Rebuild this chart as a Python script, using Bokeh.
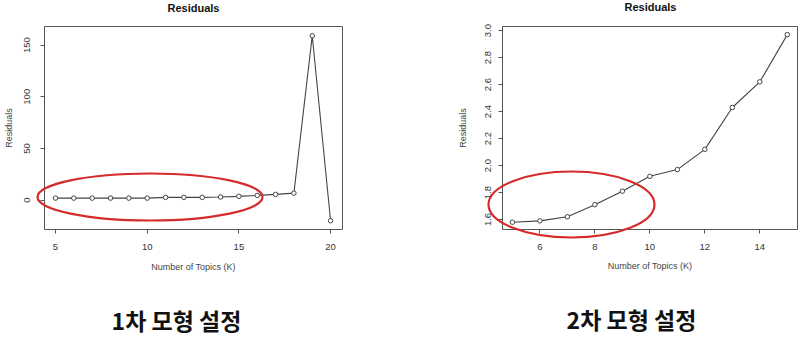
import numpy as np
from bokeh.plotting import figure
from bokeh.layouts import column, row
from bokeh.models import Range1d, FixedTicker, GridBox, PrintfTickFormatter, BasicTickFormatter
from bokeh.embed import file_html
from bokeh.resources import INLINE
from bokeh.core.properties import value

# ---- data ----
topics1 = list(range(5, 21))
resid1 = [1.9, 1.9, 1.9, 1.9, 1.9, 1.9, 2.6, 2.6, 2.6, 3.0, 3.6, 4.5, 5.5, 6.7, 159.0, -20.0]
topics2 = list(range(5, 16))
resid2 = [1.58, 1.59, 1.62, 1.71, 1.81, 1.92, 1.97, 2.12, 2.43, 2.62, 2.97]
xticks1 = [5, 10, 15, 20]
yticks1 = [0, 50, 100, 150]
xticks2 = [6, 8, 10, 12, 14]
yticks2 = [1.6, 1.8, 2.0, 2.2, 2.4, 2.6, 2.8, 3.0]
captions = ["1차 모형 설정", "2차 모형 설정"]
titles = ["Residuals", "Residuals"]
xlabel = "Number of Topics (K)"
ylabel = "Residuals"

FONT = "Liberation Sans"
RED = "#d62b2b"


def make_panel(xs, ys, xr, yr, xt, yt, borders, xstand, xlstand, ystand, ylstand, yfmt):
    bl, br, bt, bb = borders
    p = figure(width=400, height=282, x_range=Range1d(*xr), y_range=Range1d(*yr),
               output_backend="svg", toolbar_location=None,
               min_border_left=bl, min_border_right=br, min_border_top=bt,
               min_border_bottom=bb, background_fill_color="white",
               border_fill_color="white")
    p.outline_line_color = "#555555"
    p.outline_line_width = 1
    p.grid.visible = False
    p.xaxis.ticker = FixedTicker(ticks=xt)
    p.yaxis.ticker = FixedTicker(ticks=yt)
    p.yaxis.formatter = yfmt
    for ax in (p.xaxis[0], p.yaxis[0]):
        ax.axis_line_color = None
        ax.major_tick_line_color = "#555555"
        ax.major_tick_out = 4
        ax.major_tick_in = 0
        ax.minor_tick_line_color = None
        ax.major_label_text_font = FONT
        ax.major_label_text_font_size = "9.5px"
        ax.major_label_text_color = "#333333"
        ax.axis_label_text_font = FONT
        ax.axis_label_text_font_size = "9px"
        ax.axis_label_text_font_style = "normal"
        ax.axis_label_text_color = "#444444"
    p.xaxis.axis_label = xlabel
    p.yaxis.axis_label = ylabel
    p.xaxis.major_label_standoff = xstand
    p.xaxis.axis_label_standoff = xlstand
    p.yaxis.major_label_orientation = "vertical"
    p.yaxis.major_label_standoff = ystand
    p.yaxis.axis_label_standoff = ylstand
    p.line(xs, ys, line_color="#444444", line_width=1.1)
    p.scatter(xs, ys, marker="circle", size=4.5, line_color="#444444",
              fill_color="white", line_width=1)
    return p


p1 = make_panel(topics1, resid1, (4.4, 20.65), (-28.5, 168.0), xticks1, yticks1,
                (44, 58, 26, 50), 10, 9, 10, 8, BasicTickFormatter())
p2 = make_panel(topics2, resid2, (4.64, 15.37), (1.526, 3.03), xticks2, yticks2,
                (102, 3, 25, 53), 10, 8, 7, 15, PrintfTickFormatter(format="%.1f"))

pc = figure(width=800, height=56, x_range=Range1d(0, 800), y_range=Range1d(56, 0),
            output_backend="svg", toolbar_location=None, min_border=0)
pc.outline_line_color = None
pc.axis.visible = False
pc.grid.visible = False
pc.text(x=[176, 631], y=[37, 36], text=captions, text_font=value("Noto Sans CJK KR"),
        text_font_size="23px", text_font_style="bold", text_align="center",
        text_baseline="middle", text_color="#111111")

main = column(row(p1, p2), pc)

# transparent overlay in pixel coordinates: panel titles and the red highlight
# ellipses (which extend beyond the plot boxes, as in the reference)
ov = figure(width=800, height=338, x_range=Range1d(0, 800), y_range=Range1d(338, 0),
            output_backend="svg", toolbar_location=None, min_border=0)
ov.outline_line_color = None
ov.axis.visible = False
ov.grid.visible = False
ov.background_fill_alpha = 0
ov.border_fill_alpha = 0
ov.text(x=[193, 650], y=[7, 6], text=titles, text_font=value(FONT), text_font_size="11px",
        text_font_style="bold", text_align="center", text_baseline="middle",
        text_color="#111111")
ov.ellipse(x=[149.5, 571], y=[196.5, 204], width=[225, 166], height=[47, 66],
           fill_alpha=0, line_color=RED, line_width=2.2)

layout = GridBox(children=[(main, 0, 0), (ov, 0, 0)])
open("out.html", "w").write(file_html(layout, INLINE))
